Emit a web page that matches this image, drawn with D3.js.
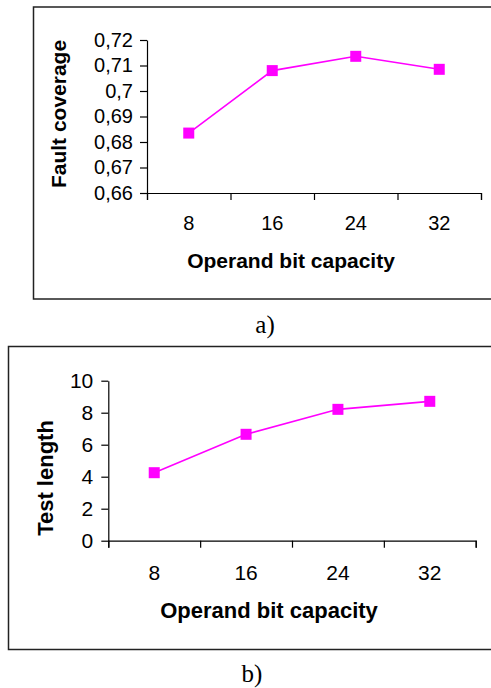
<!DOCTYPE html>
<html lang="en">
<head>
    <meta charset="utf-8">
    <title>Operand bit capacity charts</title>
    <script src="https://cdn.jsdelivr.net/npm/d3@7"></script>
    <style>
        body { margin: 0; background: #fff; }
        text { font-family: "Liberation Sans", Arial, sans-serif; fill: #000; }
    </style>
</head>
<body>
    <div class="div_d3"></div>

    <script>
        let w = 491;
        let h = 688;

        // data
        let categories = ["8", "16", "24", "32"];
        let faultCoverage = [0.6835, 0.708, 0.7136, 0.7085];
        let testLength = [4.25, 6.65, 8.21, 8.71];
        let coverageTicks = [0.66, 0.67, 0.68, 0.69, 0.70, 0.71, 0.72];
        let lengthTicks = [0, 2, 4, 6, 8, 10];

        let svg = d3.select(".div_d3").append("svg")
            .attr("width", w)
            .attr("height", h);

        let commaFmt = function (d) {
            return String(+d.toFixed(2)).replace(".", ",");
        };

        function drawPanel(p) {
            let g = svg.append("g");

            // outer frame (right edge runs off the picture)
            g.append("rect")
                .attr("x", p.frame[0])
                .attr("y", p.frame[1])
                .attr("width", w + 20)
                .attr("height", p.frame[2] - p.frame[1])
                .attr("fill", "none")
                .attr("stroke", "#222")
                .attr("stroke-width", 1.5);

            let x = d3.scaleBand()
                .domain(categories)
                .range([p.left, p.right]);
            let xEdge = d3.scaleLinear()
                .domain([0, categories.length])
                .range([p.left, p.right]);
            let y = d3.scaleLinear()
                .domain(p.domain)
                .range([p.bottom, p.top]);

            // y axis
            let yAxis = g.append("g")
                .attr("transform", "translate(" + p.left + ",0)")
                .call(d3.axisLeft(y)
                    .tickValues(p.ticks)
                    .tickFormat(p.fmt)
                    .tickSize(p.tickLen)
                    .tickSizeOuter(0)
                    .tickPadding(p.yPad));
            yAxis.selectAll("text")
                .style("font-size", p.yFont + "px");

            // x axis: ticks between categories
            g.append("g")
                .attr("transform", "translate(0," + p.bottom + ")")
                .call(d3.axisBottom(xEdge)
                    .ticks(categories.length)
                    .tickFormat("")
                    .tickSize(p.tickLen)
                    .tickSizeOuter(p.tickLen));

            // x axis labels at category centres
            let xLab = g.append("g")
                .attr("transform", "translate(0," + p.bottom + ")")
                .call(d3.axisBottom(x)
                    .tickSize(0)
                    .tickPadding(p.xPad));
            xLab.select(".domain").remove();
            xLab.selectAll("text")
                .style("font-size", p.xFont + "px");

            g.selectAll(".domain, .tick line")
                .attr("stroke", "#000")
                .attr("stroke-width", 1.2);

            // axis titles
            g.append("text")
                .attr("x", p.xTitle[0])
                .attr("y", p.xTitle[1])
                .attr("text-anchor", "middle")
                .style("font-size", p.titleFont + "px")
                .style("font-weight", "bold")
                .text("Operand bit capacity");

            g.append("text")
                .attr("transform", "translate(" + p.yTitle[0] + "," + p.yTitle[1] + ") rotate(-90)")
                .attr("text-anchor", "middle")
                .style("font-size", p.titleFont + "px")
                .style("font-weight", "bold")
                .text(p.yLabel);

            // series line
            let line = d3.line()
                .x(function (d, i) { return x(categories[i]) + x.bandwidth() / 2; })
                .y(function (d) { return y(d); });

            g.append("path")
                .datum(p.values)
                .attr("d", line)
                .attr("fill", "none")
                .attr("stroke", "#ff00ff")
                .attr("stroke-width", 1.6);

            // square markers
            let m = 11;
            g.selectAll("rect.marker")
                .data(p.values)
                .enter()
                .append("rect")
                .attr("class", "marker")
                .attr("x", function (d, i) { return x(categories[i]) + x.bandwidth() / 2 - m / 2; })
                .attr("y", function (d) { return y(d) - m / 2; })
                .attr("width", m)
                .attr("height", m)
                .attr("fill", "#ff00ff");

            // panel caption
            svg.append("text")
                .attr("x", p.caption[0])
                .attr("y", p.caption[1])
                .attr("text-anchor", "middle")
                .style("font-family", "'Liberation Serif', 'Times New Roman', serif")
                .style("font-size", "25px")
                .text(p.captionText);
        }

        drawPanel({
            frame: [33.5, 7, 299],
            left: 147, right: 481, top: 40, bottom: 193,
            domain: [0.66, 0.72],
            ticks: coverageTicks,
            fmt: commaFmt,
            tickLen: 7, yPad: 7, xPad: 23,
            yFont: 20, xFont: 20, titleFont: 21,
            xTitle: [291, 268],
            yTitle: [66, 114],
            yLabel: "Fault coverage",
            values: faultCoverage,
            caption: [265, 333],
            captionText: "a)"
        });

        drawPanel({
            frame: [8.5, 346.5, 649.5],
            left: 108.3, right: 475.7, top: 380.7, bottom: 540.7,
            domain: [0, 10],
            ticks: lengthTicks,
            fmt: d3.format("d"),
            tickLen: 7, yPad: 8, xPad: 24,
            yFont: 21, xFont: 21, titleFont: 22,
            xTitle: [269, 618],
            yTitle: [53, 478],
            yLabel: "Test length",
            values: testLength,
            caption: [252, 682],
            captionText: "b)"
        });
    </script>
</body>
</html>
